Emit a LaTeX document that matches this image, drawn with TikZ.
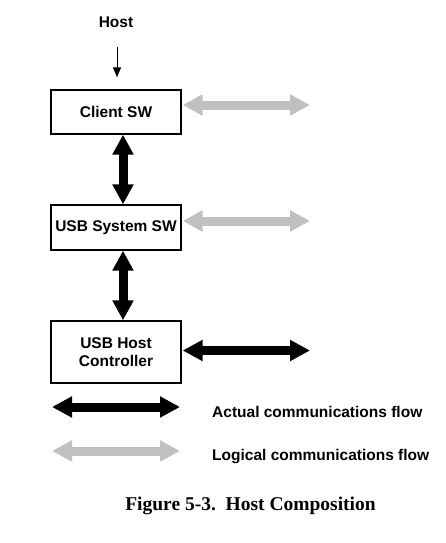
\documentclass[tikz,border=0pt]{standalone}
\usepackage{fontspec}
\setmainfont{Liberation Serif}
\setsansfont{Liberation Sans}
\usetikzlibrary{arrows.meta}
\definecolor{logicgrey}{RGB}{192,192,192}
\tikzset{
  blockbox/.style={draw=black, line width=1.3pt, minimum width=130pt, inner sep=0pt, align=center, font=\sffamily\bfseries\fontsize{15.5}{19}\selectfont},
  labeltext/.style={inner sep=0pt, font=\sffamily\bfseries\fontsize{15.5}{19}\selectfont},
  fatarrow/.style={line width=9pt, {Triangle[length=20pt,width=20pt]}-{Triangle[length=20pt,width=20pt]}},
  actualflow/.style={fatarrow, black},
  logicalflow/.style={fatarrow, logicgrey},
  thinarrow/.style={line width=1pt, -{Triangle[length=10pt,width=8pt]}}
}
\begin{document}
\begin{tikzpicture}[x=1pt,y=-1pt]
\useasboundingbox (0,0) rectangle (446,543);
\node[labeltext] (host) at (116,22.5) {Host};
\node[blockbox, minimum height=44pt] (client) at (116,112) {Client SW};
\node[blockbox, minimum height=45pt] (sysw) at (116,227.5) {USB System SW};
\node[blockbox, minimum height=62pt] (hc) at (116,352) {USB Host\\[-1pt]Controller};
\draw[thinarrow, shorten <=19pt, shorten >=12pt] ([xshift=1pt]host.south) -- ([xshift=1pt]client.north);
\draw[actualflow] ([xshift=7pt]client.south) -- ([xshift=7pt]sysw.north);
\draw[actualflow] ([xshift=7pt]sysw.south) -- ([xshift=7pt]hc.north);
\coordinate (clientR) at (310,105);
\coordinate (syswR) at (310,221);
\coordinate (hcR) at (310,350.5);
\draw[logicalflow] ([xshift=1pt,yshift=7pt]client.east) -- (clientR);
\draw[logicalflow] ([xshift=1pt,yshift=6.5pt]sysw.east) -- (syswR);
\draw[actualflow] ([xshift=1pt,yshift=1.5pt]hc.east) -- (hcR);
\coordinate (legAL) at (52,407);
\coordinate (legAR) at (180,407);
\coordinate (legLL) at (52,451);
\coordinate (legLR) at (180,451);
\draw[actualflow] (legAL) -- (legAR);
\draw[logicalflow] (legLL) -- (legLR);
\node[labeltext, anchor=base west] (actual) at (212,417) {Actual communications flow};
\node[labeltext, anchor=base west] (logical) at (212,460.5) {Logical communications flow};
\node[inner sep=0pt, anchor=base, font=\rmfamily\bfseries\fontsize{19.5}{23}\selectfont] (caption) at (250.5,510.5) {Figure 5-3.\ \ Host Composition};
\end{tikzpicture}
\end{document}
